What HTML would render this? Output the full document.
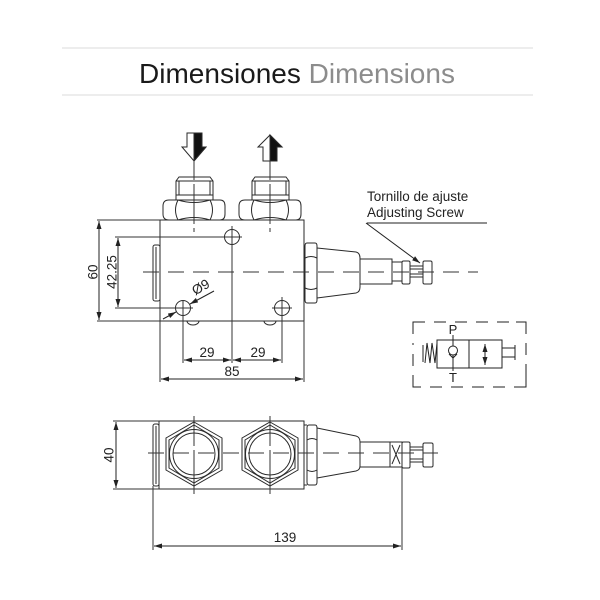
<!DOCTYPE html>
<html><head><meta charset="utf-8"><style>
html,body{margin:0;padding:0;background:#fff;}
svg{display:block;}
text{font-family:"Liberation Sans",Arial,sans-serif;fill:#222;}
</style></head><body>
<svg width="600" height="600" viewBox="0 0 600 600" xmlns="http://www.w3.org/2000/svg">
<defs>
<marker id="ar" viewBox="0 0 8 6" refX="8" refY="3" markerWidth="8" markerHeight="6" markerUnits="userSpaceOnUse" orient="auto-start-reverse">
<path d="M0,0.5 L8,3 L0,5.5 z" fill="#222"/>
</marker>
</defs>
<!-- header -->
<line x1="62" y1="48" x2="533" y2="48" stroke="#e2e2e2" stroke-width="1.2"/>
<line x1="62" y1="95" x2="533" y2="95" stroke="#e2e2e2" stroke-width="1.2"/>
<text x="297" y="83" font-size="28" text-anchor="middle" style="fill:#1a1a1a">Dimensiones <tspan style="fill:#8c8c8c">Dimensions</tspan></text>

<g fill="none" stroke="#2a2a2a" stroke-width="1">
<!-- ===== TOP VIEW ===== -->
<polygon points="187,133 202,133 202,147 206,147 194,161 182,147 187,147" fill="#fff"/>
<polygon points="194,133 202,133 202,147 206,147 194,161" fill="#111"/>
<polygon points="270,135 282,147 277,147 277,161 263,161 263,147 258,147" fill="#fff"/>
<polygon points="270,135 282,147 277,147 277,161 270,161" fill="#111"/>

<g id="fit">
<path d="M176,200 L176,181 L179,177 L210,177 L213,181 L213,200"/>
<line x1="176" y1="181" x2="213" y2="181"/>
<line x1="176" y1="195" x2="213" y2="195"/>
<line x1="179" y1="181" x2="179" y2="195"/>
<line x1="210" y1="181" x2="210" y2="195"/>
<path d="M169,200 L220,200 Q225,200 225,206 L225,214 Q225,220 220,220 L169,220 Q163,220 163,214 L163,206 Q163,200 169,200 Z"/>
<path d="M178,200 Q173,210 178,220"/>
<path d="M210,200 Q215,210 210,220"/>
<path d="M178,200 Q194,205 210,200"/>
<path d="M178,220 Q194,215 210,220"/>
</g>
<use href="#fit" transform="translate(76,0)"/>

<rect x="160" y="220" width="144" height="101" fill="#fff"/>
<rect x="153" y="245" width="7" height="56" rx="2"/>
<line x1="156" y1="247" x2="156" y2="299"/>
<path d="M187,321 A6,4 0 0 0 199,321"/>
<path d="M264,321 A6,4 0 0 0 276,321"/>
<circle cx="232" cy="237" r="7.5"/>
<circle cx="183" cy="308" r="7.5"/>
<circle cx="282" cy="308" r="7.5"/>

<path d="M307,243 L315,243 Q317,243 317,246 L317,300 Q317,303 315,303 L307,303 Q305,303 305,300 L305,246 Q305,243 307,243 Z" fill="#fff"/>
<path d="M305,258 Q311,255 317,258 M305,288 Q311,291 317,288"/>
<path d="M317,248 L356,252 Q360,253 360,258 L360,287 Q360,292 356,293 L317,298"/>
<rect x="360" y="259" width="32" height="25"/>
<rect x="392" y="262" width="10" height="19"/>
<rect x="402" y="261" width="8" height="23" rx="1.5"/>
<line x1="410" y1="266" x2="423" y2="266"/>
<line x1="410" y1="277" x2="423" y2="277"/>
<line x1="410" y1="269" x2="423" y2="269"/>
<line x1="410" y1="274" x2="423" y2="274"/>
<rect x="423" y="261" width="9" height="23" rx="1.5"/>
</g>

<g stroke="#333" stroke-width="1" fill="none">
<line x1="143" y1="272" x2="478" y2="272" stroke-dasharray="16 9"/>
<line x1="194" y1="150" x2="194" y2="232" stroke-dasharray="30 4 40 4"/>
<line x1="270" y1="150" x2="270" y2="232" stroke-dasharray="30 4 40 4"/>
<line x1="222" y1="237" x2="242" y2="237"/>
<line x1="232" y1="226" x2="232" y2="363"/>
<line x1="173" y1="308" x2="193" y2="308"/>
<line x1="183" y1="300" x2="183" y2="363"/>
<line x1="272" y1="308" x2="292" y2="308"/>
<line x1="282" y1="297" x2="282" y2="363"/>
<line x1="160" y1="321" x2="160" y2="382"/>
<line x1="304" y1="321" x2="304" y2="382"/>
<line x1="97" y1="220" x2="160" y2="220"/>
<line x1="97" y1="321" x2="160" y2="321"/>
<line x1="115" y1="237" x2="222" y2="237"/>
<line x1="115" y1="308" x2="173" y2="308"/>
</g>

<g stroke="#222" stroke-width="1" fill="none">
<line x1="99" y1="221" x2="99" y2="320" marker-start="url(#ar)" marker-end="url(#ar)"/>
<line x1="118" y1="238" x2="118" y2="307" marker-start="url(#ar)" marker-end="url(#ar)"/>
<line x1="184" y1="360" x2="231" y2="360" marker-start="url(#ar)" marker-end="url(#ar)"/>
<line x1="233" y1="360" x2="281" y2="360" marker-start="url(#ar)" marker-end="url(#ar)"/>
<line x1="161" y1="379" x2="303" y2="379" marker-start="url(#ar)" marker-end="url(#ar)"/>
<line x1="163" y1="319" x2="176" y2="312" marker-end="url(#ar)"/>
<line x1="214" y1="291" x2="190" y2="304" marker-end="url(#ar)"/>
<line x1="367" y1="223" x2="487" y2="223"/>
<line x1="366" y1="223" x2="420" y2="263" marker-end="url(#ar)"/>
</g>

<text x="93" y="272" font-size="13.5" text-anchor="middle" dominant-baseline="central" transform="rotate(-90 93 272)">60</text>
<text x="112" y="272" font-size="13.5" text-anchor="middle" dominant-baseline="central" transform="rotate(-90 112 272)">42.25</text>
<text x="207" y="357" font-size="13.5" text-anchor="middle">29</text>
<text x="258" y="357" font-size="13.5" text-anchor="middle">29</text>
<text x="232" y="376" font-size="13.5" text-anchor="middle">85</text>
<text x="0" y="0" font-size="13.5" text-anchor="middle" transform="translate(203,291) rotate(-30)">Ø9</text>
<text x="367" y="201" font-size="13.5">Tornillo de ajuste</text>
<text x="367" y="217" font-size="13.5">Adjusting Screw</text>

<!-- ===== SYMBOL ===== -->
<g stroke="#222" stroke-width="1" fill="none">
<path d="M413,334 L413,322 L425,322 M434,322 L446,322 M455,322 L467,322 M476,322 L488,322 M497,322 L509,322 M516,322 L526,322 L526,334 M526,343 L526,355 M526,364 L526,375 L526,387 L514,387 M505,387 L493,387 M484,387 L472,387 M463,387 L451,387 M442,387 L430,387 M421,387 L413,387 L413,375 M413,366 L413,354 M413,345 L413,343"/>
<rect x="437" y="340" width="65" height="28"/>
<line x1="469" y1="340" x2="469" y2="368"/>
<line x1="453" y1="335" x2="453" y2="346"/>
<line x1="453" y1="355" x2="453" y2="371"/>
<circle cx="453" cy="350.5" r="4.5"/>
<path d="M449,354 L453,358 L457,354"/>
<line x1="423" y1="345" x2="423" y2="362"/>
<path d="M437,343 L435,363 L432,343 L430,363 L427,343 L425,363"/>
<line x1="485" y1="344" x2="485" y2="365" marker-start="url(#ar)" marker-end="url(#ar)"/>
<rect x="502" y="348" width="13" height="9"/>
<line x1="515" y1="345" x2="515" y2="360"/>
</g>
<text x="453" y="334" font-size="13" text-anchor="middle">P</text>
<text x="453" y="382" font-size="13" text-anchor="middle">T</text>

<!-- ===== BOTTOM VIEW ===== -->
<g stroke="#2a2a2a" stroke-width="1" fill="none">
<rect x="159" y="421" width="145" height="68" fill="#fff"/>
<rect x="153" y="424" width="6" height="62" rx="2"/>
<line x1="156" y1="426" x2="156" y2="484"/>
<g id="hx">
<polygon points="194,422 222,438 222,470 194,486 166,470 166,438"/>
<polygon points="194,425 219,440 219,468 194,483 169,468 169,440"/>
<circle cx="194" cy="454" r="24.5"/>
<circle cx="194" cy="454" r="21"/>
</g>
<use href="#hx" transform="translate(76,0)"/>

<path d="M309,425 L315,425 Q317,425 317,428 L317,482 Q317,485 315,485 L309,485 Q307,485 307,482 L307,428 Q307,425 309,425 Z" fill="#fff"/>
<line x1="304" y1="425" x2="307" y2="425"/>
<line x1="304" y1="485" x2="307" y2="485"/>
<path d="M307,440 Q312,437 317,440 M307,470 Q312,473 317,470"/>
<path d="M317,428 L356,436 Q360,437 360,442 L360,466 Q360,470 356,471 L317,478"/>
<rect x="360" y="442" width="30" height="25"/>
<rect x="390" y="442" width="12" height="25"/>
<path d="M392,445 L400,464 M400,445 L392,464"/>
<rect x="402" y="442" width="8" height="26" rx="1.5"/>
<line x1="410" y1="447" x2="423" y2="447"/>
<line x1="410" y1="462" x2="423" y2="462"/>
<line x1="410" y1="450" x2="423" y2="450"/>
<line x1="410" y1="459" x2="423" y2="459"/>
<rect x="423" y="443" width="10" height="24" rx="1.5"/>
</g>
<g stroke="#333" stroke-width="1" fill="none">
<line x1="148" y1="453" x2="438" y2="453" stroke-dasharray="16 9"/>
<line x1="194" y1="416" x2="194" y2="494" stroke-dasharray="30 4 44"/>
<line x1="270" y1="416" x2="270" y2="494" stroke-dasharray="30 4 44"/>
<line x1="113" y1="421" x2="159" y2="421"/>
<line x1="113" y1="489" x2="159" y2="489"/>
<line x1="153" y1="486" x2="153" y2="550"/>
<line x1="402" y1="467" x2="402" y2="550"/>
</g>
<g stroke="#222" stroke-width="1" fill="none">
<line x1="116" y1="422" x2="116" y2="488" marker-start="url(#ar)" marker-end="url(#ar)"/>
<line x1="154" y1="546" x2="401" y2="546" marker-start="url(#ar)" marker-end="url(#ar)"/>
</g>
<text x="109" y="455" font-size="13.5" text-anchor="middle" dominant-baseline="central" transform="rotate(-90 109 455)">40</text>
<text x="285" y="542" font-size="13.5" text-anchor="middle">139</text>
</svg>
</body></html>
